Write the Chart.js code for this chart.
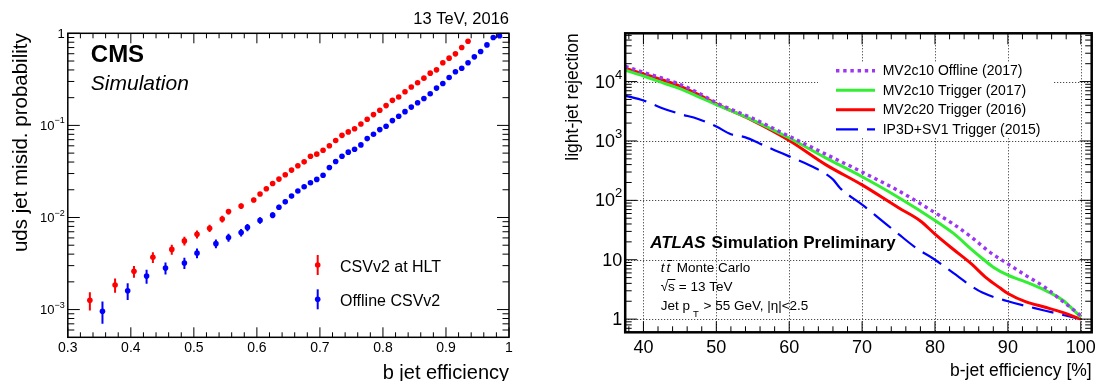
<!DOCTYPE html>
<html>
<head>
<meta charset="utf-8">
<title>b-tagging performance at trigger level</title>
<script src="https://cdn.jsdelivr.net/npm/chart.js@4.4.1/dist/chart.umd.min.js"></script>
<style>
  html, body { margin: 0; padding: 0; background: #fff; }
  #wrap { position: relative; width: 1095px; height: 381px; overflow: hidden; }
  canvas { position: absolute; top: 0; }
  #cmsChart { left: 0; }
  #atlasChart { left: 545px; }
</style>
</head>
<body>
<div id="wrap">
  <canvas id="cmsChart" width="545" height="381"></canvas>
  <canvas id="atlasChart" width="550" height="381"></canvas>
</div>
<script>
// ---- CMS panel: uds misid probability vs b jet efficiency ----
const hltEff = [0.335, 0.375, 0.405, 0.435, 0.465, 0.485, 0.505, 0.525, 0.545, 0.555, 0.575, 0.595,
  0.605, 0.615, 0.625, 0.635, 0.645, 0.655, 0.665, 0.675, 0.685, 0.695, 0.705, 0.715, 0.725, 0.735,
  0.745, 0.755, 0.765, 0.775, 0.785, 0.795, 0.805, 0.815, 0.825, 0.835, 0.845, 0.855, 0.865, 0.875,
  0.885, 0.895, 0.905, 0.915, 0.925, 0.935];
const hltMisid = [0.00126, 0.00185, 0.0026, 0.0037, 0.0045, 0.00557, 0.00658, 0.00764, 0.00964, 0.0116, 0.0133, 0.0155,
  0.018, 0.0205, 0.0234, 0.0261, 0.0291, 0.0327, 0.0364, 0.0402, 0.0463, 0.0487, 0.0538, 0.060, 0.0685, 0.078,
  0.085, 0.092, 0.1035, 0.1164, 0.131, 0.146, 0.164, 0.187, 0.203, 0.232, 0.261, 0.29, 0.326, 0.369,
  0.401, 0.478, 0.537, 0.598, 0.70, 0.82];
const hltErr = [0.00028, 0.00033, 0.00038, 0.0005, 0.00055, 0.0006, 0.00065, 0.0007, 0.0008, 0.0008, 0.0009, 0.0009,
  0.0009, 0.001, 0.001, 0.0011, 0.0011, 0.0012, 0.0012, 0.0013, 0.0013, 0.0014, 0.0014, 0.0015, 0.0016, 0.0017,
  0.0018, 0.0019, 0.002, 0.0021, 0.0022, 0.0024, 0.0026, 0.0028, 0.003, 0.0032, 0.0034, 0.0036, 0.0038, 0.004,
  0.0043, 0.0046, 0.005, 0.0054, 0.0058, 0.0062];

const offEff = [0.355, 0.395, 0.425, 0.455, 0.485, 0.505, 0.535, 0.555, 0.575, 0.585, 0.605, 0.625,
  0.635, 0.645, 0.655, 0.665, 0.675, 0.685, 0.695, 0.705, 0.715, 0.725, 0.735, 0.745, 0.755, 0.765,
  0.775, 0.785, 0.795, 0.805, 0.815, 0.825, 0.835, 0.845, 0.855, 0.865, 0.875, 0.885, 0.895, 0.905,
  0.915, 0.925, 0.935, 0.945, 0.955, 0.965, 0.975, 0.985];
const offMisid = [0.00096, 0.0016, 0.00231, 0.00282, 0.0032, 0.0041, 0.0052, 0.00605, 0.00686, 0.0078, 0.0093, 0.0106,
  0.0129, 0.0148, 0.0171, 0.0194, 0.0216, 0.0238, 0.0259, 0.0288, 0.0349, 0.0405, 0.0463, 0.0512, 0.0551, 0.0614,
  0.0719, 0.080, 0.090, 0.0978, 0.1127, 0.1255, 0.141, 0.158, 0.176, 0.196, 0.221, 0.254, 0.285, 0.331,
  0.382, 0.418, 0.478, 0.555, 0.634, 0.748, 0.90, 0.94];
const offErr = [0.00026, 0.00033, 0.0004, 0.00042, 0.00045, 0.0005, 0.00057, 0.0006, 0.00065, 0.0007, 0.00075, 0.0008,
  0.00085, 0.0009, 0.0009, 0.001, 0.001, 0.0011, 0.0011, 0.0012, 0.0012, 0.0013, 0.0014, 0.0015, 0.0015, 0.0016,
  0.0017, 0.0018, 0.0019, 0.002, 0.0021, 0.0022, 0.0024, 0.0026, 0.0028, 0.003, 0.0032, 0.0034, 0.0036, 0.0038,
  0.004, 0.0043, 0.0046, 0.005, 0.0054, 0.0058, 0.0062, 0.0066];

const cmsXTicks = [0.3, 0.4, 0.5, 0.6, 0.7, 0.8, 0.9, 1];
const cmsXTickLabels = ['0.3', '0.4', '0.5', '0.6', '0.7', '0.8', '0.9', '1'];
const cmsYTicks = [0.001, 0.01, 0.1, 1];
const cmsYTickLabels = ['10^\u22123', '10^\u22122', '10^\u22121', '1'];

// ---- ATLAS panel: light-jet rejection vs b-jet efficiency ----
const offlineEff = [37.5, 40, 42.5, 45, 47.5, 50, 55, 60, 65, 70, 75, 80, 82.5, 85, 87.5, 90, 92.5, 95, 97.5, 100];
const offlineRej = [18000, 14300, 11500, 9000, 6500, 4400, 2400, 1200, 600, 300, 145, 62, 40, 24, 13.5, 8.5, 5.4, 3.5, 2.0, 1.15];

const mv2c10Eff = [37.5, 40, 42.5, 45, 47.5, 50, 55, 60, 65, 70, 75, 80, 82.5, 85, 86.5, 88, 90, 92.5, 95, 97.5, 100];
const mv2c10Rej = [15500, 12400, 9700, 7600, 5600, 4100, 2250, 1120, 520, 250, 112, 46, 28, 15, 10.5, 7.5, 5.5, 4.2, 3.1, 2.1, 1.08];

const mv2c20Eff = [37.5, 40, 42.5, 45, 47.5, 50, 55, 60, 65, 70, 75, 78, 80, 82.5, 85, 87, 89, 90, 92.5, 95, 97.5, 100];
const mv2c20Rej = [16800, 13500, 10800, 8400, 6100, 4200, 2200, 1020, 400, 182, 75, 45, 27, 15, 8.5, 5.0, 3.3, 2.7, 1.95, 1.6, 1.3, 1.0];

const ip3dEff = [37.5, 40, 42.5, 45, 47.5, 50, 52, 54, 56, 58, 60, 63, 66, 67, 70, 72.5, 75, 77.5, 80, 82.5, 85, 86.5, 90, 95, 100];
const ip3dRej = [5800, 4800, 3600, 2850, 2350, 1750, 1300, 1150, 900, 700, 550, 380, 225, 160, 85, 48, 27, 15.5, 10, 6.0, 3.6, 2.8, 2.0, 1.4, 1.0];

const atlasLabels = ['MV2c10 Offline (2017)', 'MV2c10 Trigger (2017)', 'MV2c20 Trigger (2016)', 'IP3D+SV1 Trigger (2015)'];
const atlasXTicks = [40, 50, 60, 70, 80, 90, 100];
const atlasXTickLabels = ['40', '50', '60', '70', '80', '90', '100'];
const atlasYTicks = [1, 10, 100, 1000, 10000];
const atlasYTickLabels = ['1', '10', '10^2', '10^3', '10^4'];

const FONT = '"Liberation Sans", Arial, Helvetica, sans-serif';
function font(size, style) {
  return (style ? style + ' ' : '') + size + 'px ' + FONT;
}

function toPoints(xs, ys, errs) {
  return xs.map((x, i) => errs ? { x: x, y: ys[i], err: errs[i] } : { x: x, y: ys[i] });
}

function logMinors(min, max) {
  const out = [];
  for (let e = Math.floor(Math.log10(min)); e <= Math.ceil(Math.log10(max)); e++) {
    for (let m = 2; m <= 9; m++) {
      const v = m * Math.pow(10, e);
      if (v > min && v < max) out.push(v);
    }
  }
  return out;
}

function linSteps(min, max, step) {
  const out = [];
  for (let k = Math.ceil(min / step - 1e-9); k * step <= max + 1e-9; k++) out.push(+(k * step).toFixed(6));
  return out;
}

// label like '10^2' is drawn with a raised exponent
function drawTickLabel(ctx, label, x, y, size, align, baseline) {
  const parts = label.split('^');
  const expSize = Math.round(size * 0.7);
  ctx.font = font(size);
  const wb = ctx.measureText(parts[0]).width;
  let we = 0;
  if (parts[1]) {
    ctx.font = font(expSize);
    we = ctx.measureText(parts[1]).width;
  }
  const left = align === 'right' ? x - wb - we : x - (wb + we) / 2;
  ctx.textAlign = 'left';
  ctx.textBaseline = baseline;
  ctx.font = font(size);
  ctx.fillText(parts[0], left, y);
  if (parts[1]) {
    ctx.font = font(expSize);
    ctx.fillText(parts[1], left + wb, y - size * 0.42);
  }
}

function drawGrid(chart, cfg) {
  const { ctx, chartArea: a } = chart;
  const x = chart.scales.x, y = chart.scales.y;
  ctx.save();
  ctx.strokeStyle = '#222';
  ctx.lineWidth = 1;
  ctx.setLineDash([1, 2]);
  ctx.beginPath();
  cfg.xMajor.forEach(v => {
    const px = Math.round(x.getPixelForValue(v)) + 0.5;
    ctx.moveTo(px, a.top); ctx.lineTo(px, a.bottom);
  });
  cfg.yMajor.forEach(v => {
    const py = Math.round(y.getPixelForValue(v)) + 0.5;
    ctx.moveTo(a.left, py); ctx.lineTo(a.right, py);
  });
  ctx.stroke();
  ctx.restore();
}

function drawAxes(chart, cfg) {
  const { ctx, chartArea: a } = chart;
  const x = chart.scales.x, y = chart.scales.y;
  ctx.save();
  ctx.strokeStyle = '#000';
  ctx.fillStyle = '#000';
  ctx.lineWidth = 1;
  ctx.beginPath();
  linSteps(x.min, x.max, cfg.xMinorStep).forEach(v => {
    const major = cfg.xMajor.some(t => Math.abs(t - v) < 1e-6);
    const len = major ? cfg.xMajorLen : cfg.xMinorLen;
    const px = x.getPixelForValue(v);
    ctx.moveTo(px, a.bottom); ctx.lineTo(px, a.bottom - len);
    ctx.moveTo(px, a.top); ctx.lineTo(px, a.top + len);
  });
  const yAll = cfg.yMajor.map(v => [v, cfg.yMajorLen]).concat(logMinors(y.min, y.max).map(v => [v, cfg.yMinorLen]));
  yAll.forEach(([v, len]) => {
    const py = y.getPixelForValue(v);
    ctx.moveTo(a.left, py); ctx.lineTo(a.left + len, py);
    ctx.moveTo(a.right, py); ctx.lineTo(a.right - len, py);
  });
  ctx.stroke();

  ctx.lineWidth = cfg.frameWidth;
  ctx.strokeRect(a.left, a.top, a.right - a.left, a.bottom - a.top);

  cfg.xMajor.forEach((v, i) => {
    drawTickLabel(ctx, cfg.xLabels[i], x.getPixelForValue(v), a.bottom + cfg.xLabelGap, cfg.xLabelSize, 'center', 'alphabetic');
  });
  cfg.yMajor.forEach((v, i) => {
    drawTickLabel(ctx, cfg.yLabels[i], a.left - cfg.yLabelGap, y.getPixelForValue(v) + 1, cfg.yLabelSize, 'right', 'middle');
  });
  ctx.restore();
}

function drawRotatedTitle(ctx, text, x, y, size) {
  ctx.save();
  ctx.translate(x, y);
  ctx.rotate(-Math.PI / 2);
  ctx.font = font(size);
  ctx.textAlign = 'right';
  ctx.textBaseline = 'alphabetic';
  ctx.fillText(text, 0, 0);
  ctx.restore();
}

const cmsAxes = {
  xMajor: cmsXTicks, xLabels: cmsXTickLabels, xMinorStep: 0.02,
  yMajor: cmsYTicks, yLabels: cmsYTickLabels,
  xMajorLen: 10, xMinorLen: 5, yMajorLen: 12, yMinorLen: 6.5,
  frameWidth: 1.5, xLabelGap: 15, xLabelSize: 14, yLabelGap: 3, yLabelSize: 13
};

const atlasAxes = {
  xMajor: atlasXTicks, xLabels: atlasXTickLabels, xMinorStep: 2,
  yMajor: atlasYTicks, yLabels: atlasYTickLabels,
  xMajorLen: 11, xMinorLen: 6, yMajorLen: 12, yMinorLen: 6.5,
  frameWidth: 2.5, xLabelGap: 20.5, xLabelSize: 18, yLabelGap: 3, yLabelSize: 18
};

const cmsDecor = {
  id: 'cmsDecor',
  beforeDatasetsDraw(chart) {
    const { ctx } = chart;
    const x = chart.scales.x, y = chart.scales.y;
    chart.data.datasets.forEach(ds => {
      ctx.save();
      ctx.strokeStyle = ds.backgroundColor;
      ctx.lineWidth = 2;
      ctx.beginPath();
      ds.data.forEach(p => {
        const px = x.getPixelForValue(p.x);
        ctx.moveTo(px, y.getPixelForValue(p.y - p.err));
        ctx.lineTo(px, y.getPixelForValue(p.y + p.err));
      });
      ctx.stroke();
      ctx.restore();
    });
  },
  afterDraw(chart) {
    drawAxes(chart, cmsAxes);
    const { ctx, chartArea: a } = chart;
    ctx.save();
    ctx.fillStyle = '#000';
    ctx.textAlign = 'right';
    ctx.textBaseline = 'alphabetic';
    ctx.font = font(16.5);
    ctx.fillText('13 TeV, 2016', a.right, 24);
    ctx.font = font(20);
    ctx.fillText('b jet efficiency', a.right, 379);
    drawRotatedTitle(ctx, 'uds jet misid. probability', 27, a.top, 20.5);

    ctx.textAlign = 'left';
    ctx.font = font(24, 'bold');
    ctx.fillText('CMS', a.left + 23, 61.7);
    ctx.font = font(21, 'italic');
    ctx.fillText('Simulation', a.left + 23, 90);

    // legend
    chart.data.datasets.forEach((ds, i) => {
      const cy = 265 + i * 34.3;
      const lx = 317.7;
      ctx.strokeStyle = ds.backgroundColor;
      ctx.fillStyle = ds.backgroundColor;
      ctx.lineWidth = 2;
      ctx.beginPath();
      ctx.moveTo(lx, cy - 10); ctx.lineTo(lx, cy + 10);
      ctx.stroke();
      ctx.beginPath();
      ctx.arc(lx, cy, 2.8, 0, Math.PI * 2);
      ctx.fill();
      ctx.fillStyle = '#000';
      ctx.font = font(16);
      ctx.fillText(ds.label, 340, cy + 6.5);
    });
    ctx.restore();
  }
};

const atlasDecor = {
  id: 'atlasDecor',
  beforeDatasetsDraw(chart) {
    drawGrid(chart, atlasAxes);
  },
  afterDraw(chart) {
    drawAxes(chart, atlasAxes);
    const { ctx, chartArea: a } = chart;
    ctx.save();
    ctx.fillStyle = '#000';
    ctx.textAlign = 'right';
    ctx.textBaseline = 'alphabetic';
    ctx.font = font(17.5);
    ctx.fillText('b-jet efficiency [%]', a.right, 376);
    drawRotatedTitle(ctx, 'light-jet rejection', 33, a.top, 17.5);

    // legend box hides the grid behind it
    ctx.fillStyle = '#fff';
    ctx.fillRect(273, 62, 235, 76);
    chart.data.datasets.forEach((ds, i) => {
      const cy = 70.7 + i * 19.55;
      ctx.strokeStyle = ds.borderColor;
      ctx.lineWidth = ds.borderWidth;
      ctx.setLineDash(ds.borderDash || []);
      ctx.beginPath();
      ctx.moveTo(291, cy); ctx.lineTo(330, cy);
      ctx.stroke();
      ctx.setLineDash([]);
      ctx.fillStyle = '#000';
      ctx.textAlign = 'left';
      ctx.textBaseline = 'middle';
      ctx.font = font(14);
      ctx.fillText(ds.label, 337.7, cy + 0.5);
    });

    // ATLAS label block
    ctx.textBaseline = 'alphabetic';
    ctx.textAlign = 'left';
    ctx.fillStyle = '#000';
    const tx = a.left + 25;
    ctx.font = font(17, 'italic bold');
    ctx.fillText('ATLAS', tx, 248.3);
    const wA = ctx.measureText('ATLAS').width;
    ctx.font = font(17, 'bold');
    ctx.fillText('Simulation Preliminary', tx + wA + 6, 248.3);

    const lx = a.left + 35.5;
    ctx.font = font(13.5, 'italic');
    const wt = ctx.measureText('t').width;
    ctx.fillText('t', lx, 271.7);
    ctx.fillText('t', lx + wt + 2, 271.7);
    ctx.lineWidth = 1;
    ctx.strokeStyle = '#000';
    ctx.beginPath();
    ctx.moveTo(lx + wt + 3, 260.5); ctx.lineTo(lx + 2 * wt + 4, 260.5);
    ctx.stroke();
    ctx.font = font(13.5);
    ctx.fillText('Monte Carlo', lx + 16, 271.7);

    const wr = ctx.measureText('\u221a').width;
    ctx.fillText('\u221a', lx, 291);
    ctx.fillText('s', lx + wr, 291);
    const ws = ctx.measureText('s').width;
    ctx.beginPath();
    ctx.moveTo(lx + wr - 0.5, 279.5); ctx.lineTo(lx + wr + ws + 0.5, 279.5);
    ctx.stroke();
    ctx.fillText('= 13 TeV', lx + wr + ws + 4, 291);

    ctx.fillText('Jet p', lx, 310);
    const wp = ctx.measureText('Jet p').width;
    ctx.font = font(9.5);
    ctx.fillText('T', lx + wp + 3, 317);
    const wT = ctx.measureText('T').width;
    ctx.font = font(13.5);
    ctx.fillText(' > 55 GeV, |\u03b7|<2.5', lx + wp + wT + 4, 310);
    ctx.restore();
  }
};

new Chart(document.getElementById('cmsChart').getContext('2d'), {
  type: 'scatter',
  data: {
    datasets: [
      {
        label: 'CSVv2 at HLT',
        data: toPoints(hltEff, hltMisid, hltErr),
        backgroundColor: '#ff0000',
        borderWidth: 0,
        pointRadius: 2.8
      },
      {
        label: 'Offline CSVv2',
        data: toPoints(offEff, offMisid, offErr),
        backgroundColor: '#0000ff',
        borderWidth: 0,
        pointRadius: 2.8
      }
    ]
  },
  options: {
    responsive: false,
    animation: false,
    layout: { padding: { left: 67.8, right: 36, top: 33.3, bottom: 43.7 } },
    scales: {
      x: { type: 'linear', min: 0.3, max: 1, display: false },
      y: { type: 'logarithmic', min: 5e-4, max: 1, display: false }
    },
    plugins: {
      legend: { display: false },
      tooltip: { enabled: false }
    }
  },
  plugins: [cmsDecor]
});

new Chart(document.getElementById('atlasChart').getContext('2d'), {
  type: 'scatter',
  data: {
    datasets: [
      {
        label: atlasLabels[0],
        data: toPoints(offlineEff, offlineRej),
        borderColor: '#9d36f2',
        borderWidth: 3.4,
        borderDash: [3.4, 3.8]
      },
      {
        label: atlasLabels[1],
        data: toPoints(mv2c10Eff, mv2c10Rej),
        borderColor: '#33ee33',
        borderWidth: 3
      },
      {
        label: atlasLabels[2],
        data: toPoints(mv2c20Eff, mv2c20Rej),
        borderColor: '#ff0000',
        borderWidth: 3
      },
      {
        label: atlasLabels[3],
        data: toPoints(ip3dEff, ip3dRej),
        borderColor: '#0000ff',
        borderWidth: 2.2,
        borderDash: [22, 9]
      }
    ]
  },
  options: {
    responsive: false,
    animation: false,
    showLine: true,
    elements: {
      point: { radius: 0 },
      line: { cubicInterpolationMode: 'monotone', fill: false }
    },
    layout: { padding: { left: 80.2, right: 3.3, top: 33.3, bottom: 48.7 } },
    scales: {
      x: { type: 'linear', min: 37.5, max: 101.5, display: false },
      y: { type: 'logarithmic', min: 0.62, max: 65000, display: false }
    },
    plugins: {
      legend: { display: false },
      tooltip: { enabled: false }
    }
  },
  plugins: [atlasDecor]
});
</script>
</body>
</html>
